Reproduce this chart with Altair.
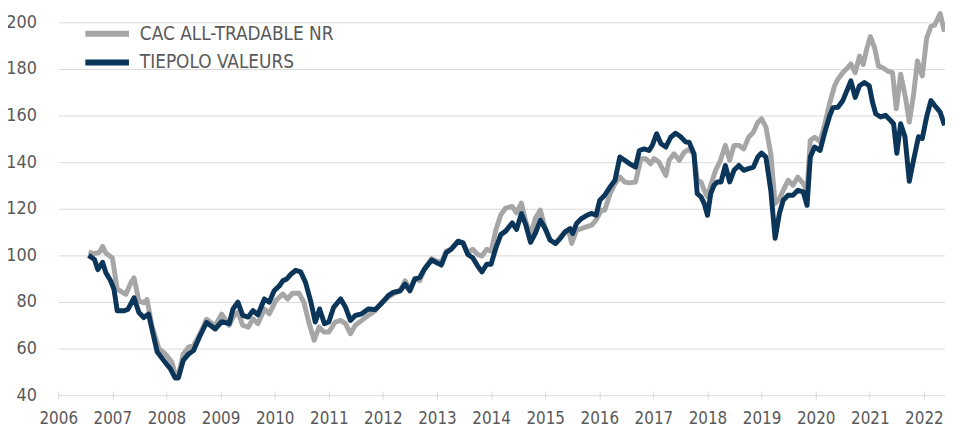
import altair as alt
import pandas as pd

# ---- data (decimal year, index value) ----
cac_t = [2006.56, 2006.67, 2006.76, 2006.82, 2006.88, 2007.00, 2007.09, 2007.15, 2007.25, 2007.34,
         2007.40, 2007.49, 2007.58, 2007.64, 2007.73, 2007.86, 2007.98, 2008.10, 2008.16, 2008.22,
         2008.31, 2008.41, 2008.50, 2008.62, 2008.74, 2008.90, 2009.02, 2009.16, 2009.23, 2009.32,
         2009.41, 2009.51, 2009.60, 2009.69, 2009.81, 2009.90, 2010.02, 2010.15, 2010.24, 2010.33,
         2010.45, 2010.54, 2010.63, 2010.73, 2010.82, 2010.91, 2011.00, 2011.12, 2011.22, 2011.31,
         2011.40, 2011.49, 2011.61, 2011.73, 2011.86, 2011.98, 2012.10, 2012.19, 2012.32, 2012.41,
         2012.50, 2012.59, 2012.68, 2012.77, 2012.90, 2012.99, 2013.08, 2013.17, 2013.26, 2013.39,
         2013.48, 2013.57, 2013.66, 2013.75, 2013.83, 2013.92, 2014.00, 2014.09, 2014.18, 2014.27,
         2014.39, 2014.47, 2014.56, 2014.64, 2014.73, 2014.82, 2014.91, 2015.00, 2015.09, 2015.19,
         2015.28, 2015.37, 2015.43, 2015.49, 2015.58, 2015.67, 2015.77, 2015.86, 2015.94, 2016.04,
         2016.10, 2016.20, 2016.29, 2016.38, 2016.47, 2016.56, 2016.67, 2016.77, 2016.86, 2016.95,
         2017.01, 2017.10, 2017.23, 2017.29, 2017.38, 2017.48, 2017.57, 2017.66, 2017.75, 2017.81,
         2017.88, 2017.94, 2018.00, 2018.06, 2018.15, 2018.24, 2018.33, 2018.41, 2018.49, 2018.58,
         2018.67, 2018.76, 2018.85, 2018.93, 2019.00, 2019.08, 2019.17, 2019.25, 2019.33, 2019.40,
         2019.49, 2019.58, 2019.67, 2019.77, 2019.84, 2019.90, 2019.98, 2020.08, 2020.17, 2020.26,
         2020.35, 2020.41, 2020.50, 2020.59, 2020.65, 2020.73, 2020.81, 2020.88, 2020.94, 2021.01,
         2021.09, 2021.16, 2021.24, 2021.33, 2021.42, 2021.49, 2021.57, 2021.66, 2021.73, 2021.81,
         2021.88, 2021.97, 2022.05, 2022.13, 2022.20, 2022.30, 2022.38]
cac_v = [101.4, 100.7, 101.3, 103.8, 101.0, 98.9, 85.4, 84.7, 83.3, 88.2,
         90.4, 80.4, 79.7, 81.1, 69.8, 59.9, 57.7, 54.2, 49.2, 48.5,
         57.7, 60.6, 61.3, 66.3, 72.6, 69.8, 74.8, 70.0, 73.5, 75.6,
         70.0, 69.2, 72.8, 70.7, 77.0, 74.9, 80.6, 83.4, 81.3, 83.8,
         83.7, 79.9, 71.4, 63.6, 69.2, 67.1, 67.1, 71.4, 72.1, 70.7,
         66.4, 70.0, 72.1, 74.2, 76.3, 79.9, 82.0, 83.4, 84.8, 89.1,
         85.5, 90.1, 89.1, 94.3, 98.6, 97.6, 96.9, 101.8, 102.6, 105.7,
         105.4, 101.1, 102.6, 100.4, 99.7, 102.6, 101.8, 111.1, 117.4, 120.3,
         121.0, 118.2, 122.4, 114.6, 109.0, 116.0, 119.4, 111.5, 106.6, 105.1,
         108.0, 110.1, 110.8, 105.1, 110.8, 111.5, 112.3, 113.0, 115.1, 119.4,
         119.4, 126.5, 130.8, 133.6, 131.5, 131.1, 131.5, 141.5, 141.5, 139.3,
         141.5, 140.1, 134.3, 140.8, 143.6, 140.8, 144.3, 145.5, 143.6, 132.2,
         131.5, 127.9, 125.1, 130.1, 136.5, 140.8, 147.2, 140.8, 147.2, 147.2,
         145.7, 150.7, 152.9, 157.1, 158.6, 155.0, 143.6, 122.2, 124.4, 127.9,
         132.2, 130.1, 133.6, 130.8, 127.9, 149.3, 150.7, 148.8, 156.5, 165.5,
         172.8, 175.6, 178.4, 180.5, 182.2, 178.4, 185.5, 181.9, 188.3, 193.9,
         189.0, 181.2, 180.5, 179.1, 178.4, 162.9, 177.7, 167.8, 157.2, 169.2,
         183.4, 177.0, 193.2, 198.2, 198.9, 203.8, 196.0]

tie_t = [2006.56, 2006.67, 2006.73, 2006.82, 2006.88, 2006.97, 2007.03, 2007.09, 2007.22, 2007.29,
         2007.40, 2007.49, 2007.58, 2007.67, 2007.76, 2007.83, 2007.95, 2008.07, 2008.16, 2008.22,
         2008.31, 2008.41, 2008.50, 2008.62, 2008.74, 2008.90, 2009.02, 2009.16, 2009.23, 2009.32,
         2009.41, 2009.51, 2009.60, 2009.69, 2009.81, 2009.90, 2009.99, 2010.09, 2010.15, 2010.22,
         2010.30, 2010.39, 2010.48, 2010.57, 2010.67, 2010.75, 2010.83, 2010.92, 2011.00, 2011.09,
         2011.22, 2011.31, 2011.40, 2011.49, 2011.61, 2011.73, 2011.86, 2011.98, 2012.10, 2012.19,
         2012.32, 2012.41, 2012.50, 2012.59, 2012.68, 2012.77, 2012.90, 2012.99, 2013.08, 2013.17,
         2013.26, 2013.39, 2013.48, 2013.57, 2013.66, 2013.75, 2013.83, 2013.92, 2014.00, 2014.09,
         2014.18, 2014.27, 2014.39, 2014.47, 2014.56, 2014.64, 2014.73, 2014.82, 2014.91, 2015.00,
         2015.09, 2015.19, 2015.28, 2015.37, 2015.46, 2015.51, 2015.58, 2015.67, 2015.77, 2015.86,
         2015.94, 2016.01, 2016.10, 2016.20, 2016.29, 2016.38, 2016.47, 2016.56, 2016.67, 2016.74,
         2016.83, 2016.92, 2016.98, 2017.06, 2017.14, 2017.23, 2017.32, 2017.41, 2017.50, 2017.60,
         2017.66, 2017.75, 2017.81, 2017.88, 2017.94, 2018.00, 2018.06, 2018.12, 2018.18, 2018.25,
         2018.33, 2018.41, 2018.49, 2018.58, 2018.67, 2018.76, 2018.85, 2018.93, 2019.00, 2019.08,
         2019.17, 2019.25, 2019.33, 2019.40, 2019.49, 2019.58, 2019.67, 2019.77, 2019.84, 2019.90,
         2019.98, 2020.08, 2020.17, 2020.26, 2020.32, 2020.41, 2020.50, 2020.59, 2020.65, 2020.73,
         2020.81, 2020.90, 2020.99, 2021.05, 2021.11, 2021.20, 2021.29, 2021.38, 2021.44, 2021.50,
         2021.57, 2021.65, 2021.73, 2021.81, 2021.90, 2021.97, 2022.05, 2022.13, 2022.20, 2022.30,
         2022.38]
tie_v = [100.0, 98.2, 93.9, 97.0, 92.5, 89.0, 85.4, 76.2, 76.2, 76.9,
         81.8, 75.5, 73.3, 74.8, 65.5, 58.5, 54.9, 51.4, 47.4, 47.4,
         54.9, 57.7, 59.2, 65.5, 71.2, 68.4, 71.5, 70.7, 77.0, 79.9,
         74.2, 73.5, 76.3, 74.5, 81.3, 79.9, 84.8, 87.0, 89.1, 89.8,
         91.9, 93.6, 92.9, 88.4, 79.9, 71.4, 77.0, 70.7, 71.4, 77.7,
         81.3, 77.7, 72.1, 74.2, 74.9, 77.0, 76.8, 79.5, 82.7, 84.1,
         84.8, 87.7, 84.8, 89.8, 90.5, 94.1, 98.0, 96.9, 95.8, 101.1,
         102.6, 106.1, 105.4, 100.4, 99.0, 95.5, 92.9, 96.2, 96.2, 103.3,
         108.9, 110.4, 113.9, 111.1, 117.9, 113.2, 105.6, 109.6, 115.1, 111.5,
         106.6, 105.1, 107.3, 110.1, 111.5, 109.4, 113.7, 115.8, 117.2, 118.0,
         117.2, 123.7, 125.8, 129.4, 132.2, 142.2, 140.8, 139.3, 137.9, 145.0,
         145.7, 145.0, 147.2, 152.2, 147.9, 146.5, 150.7, 152.4, 151.0, 148.6,
         148.6, 143.6, 126.5, 125.1, 122.2, 117.2, 126.5, 130.1, 131.5, 131.5,
         138.6, 131.5, 136.5, 138.6, 136.5, 137.2, 137.9, 142.2, 143.9, 142.2,
         127.9, 107.3, 118.0, 123.7, 125.8, 125.8, 127.9, 127.2, 121.5, 142.2,
         146.5, 145.0, 153.0, 160.0, 163.4, 163.6, 166.4, 171.4, 174.9, 167.8,
         172.8, 174.2, 172.8, 165.7, 160.8, 159.4, 160.1, 158.0, 156.5, 143.8,
         156.5, 150.9, 131.8, 141.0, 150.9, 150.2, 159.4, 166.4, 164.3, 161.5,
         155.8]

SERIES = ["CAC ALL-TRADABLE NR", "TIEPOLO VALEURS"]
COLORS = ["#A6A6A6", "#0B3559"]
YEAR_TICKS = list(range(2006, 2023))
Y_TICKS = list(range(40, 201, 20))

df = pd.concat([
    pd.DataFrame({"t": cac_t, "v": cac_v, "s": SERIES[0]}),
    pd.DataFrame({"t": tie_t, "v": tie_v, "s": SERIES[1]}),
], ignore_index=True)

FONT = "DejaVu Sans Condensed, DejaVu Sans"
TXT = "#595959"
GRID = "#D9D9D9"

x = alt.X("t:Q",
          scale=alt.Scale(domain=[2006, 2022.39], nice=False, zero=False),
          axis=alt.Axis(values=YEAR_TICKS, format="d", title=None, domain=False,
                        grid=False, ticks=True, tickColor=GRID, tickSize=8, tickWidth=1,
                        offset=-4, labelPadding=12, labelFlush=False,
                        labelFont=FONT, labelFontSize=17, labelColor=TXT))
y = alt.Y("v:Q",
          scale=alt.Scale(domain=[40, 200], nice=False, zero=False),
          axis=alt.Axis(values=Y_TICKS, title=None, domain=False, ticks=False,
                        grid=True, gridColor=GRID, gridWidth=1,
                        labelPadding=22, labelFont=FONT, labelFontSize=18, labelColor=TXT))
# legend symbol: a long horizontal stroke drawn from a custom path with a small layout size
color = alt.Color("s:N",
                  scale=alt.Scale(domain=SERIES, range=COLORS),
                  legend=alt.Legend(title=None, orient="none", legendX=39.8, legendY=2,
                                    direction="vertical", symbolType="M-4,0H4",
                                    symbolSize=121, symbolStrokeWidth=6,
                                    labelFont=FONT, labelFontSize=19, labelColor=TXT,
                                    labelLimit=0, labelOffset=23.5, rowPadding=4, padding=0))

base = alt.Chart(df).mark_line(strokeWidth=5, strokeJoin="round", clip=False).encode(
    x=x, y=y, color=color)

chart = alt.layer(
    base.transform_filter(alt.datum.s == SERIES[0]),
    base.transform_filter(alt.datum.s == SERIES[1]),
).properties(
    width=894.3, height=376,
    autosize=alt.AutoSizeParams(type="none"),
    padding={"left": 50.7, "top": 12.7, "right": 0, "bottom": 28.3},
    background="white",
).configure_view(stroke=None)

chart.save("out.html", embed_options={"renderer": "svg", "actions": False})
